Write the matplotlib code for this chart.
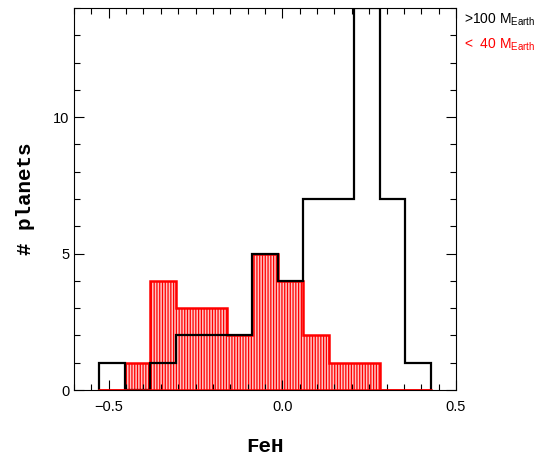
import numpy as np
import matplotlib
matplotlib.use("Agg")
import matplotlib.pyplot as plt
from matplotlib.ticker import MultipleLocator

plt.rcParams['font.family'] = ['Liberation Sans', 'DejaVu Sans']
plt.rcParams['mathtext.fontset'] = 'custom'
plt.rcParams['mathtext.rm'] = 'Liberation Sans'
plt.rcParams['hatch.linewidth'] = 0.9

# Data: histogram of [Fe/H]
bin_start = -0.527
bin_width = 0.0734
giant_counts = [1, 0, 1, 2, 2, 2, 5, 4, 7, 7, 14, 7, 1]      # >100 M_Earth
small_counts = [0, 1, 4, 3, 3, 2, 5, 4, 2, 1, 1, 0, 0]       # <40 M_Earth
edges = bin_start + bin_width * np.arange(len(giant_counts) + 1)

fig = plt.figure(figsize=(5.35, 4.57), dpi=100)
ax = fig.add_axes([74/535, 1 - 390/457, (456-74)/535, (390-8)/457])

ax.stairs(small_counts, edges, fill=True, facecolor='#ffc4c4',
          edgecolor='red', hatch='||||||', linewidth=0)
ax.stairs(small_counts, edges, color='red', linewidth=1.8, baseline=0)
ax.plot([edges[0], edges[-1]], [0, 0], color='red', lw=1.8)
ax.stairs(giant_counts, edges, color='black', linewidth=1.6)

ax.set_xlim(-0.6, 0.5)
ax.set_ylim(0, 14)
ax.xaxis.set_major_locator(MultipleLocator(0.5))
ax.xaxis.set_minor_locator(MultipleLocator(0.05))
ax.yaxis.set_major_locator(MultipleLocator(5))
ax.yaxis.set_minor_locator(MultipleLocator(1))
ax.xaxis.set_major_formatter(matplotlib.ticker.FuncFormatter(lambda v, p: f"{v:.1f}".replace('-', '\u2212') if abs(v) > 1e-9 else "0.0"))
ax.tick_params(which='both', direction='in', top=True, right=True, labelsize=10.5, width=0.8)
ax.tick_params(which='major', length=7)
ax.tick_params(which='minor', length=4)
ax.tick_params(axis='x', which='major', pad=7)
for s in ax.spines.values():
    s.set_linewidth(0.8)

ax.set_xlabel('FeH', family='Liberation Mono', fontweight='bold', fontsize=15, labelpad=17)
ax.set_ylabel('# planets', family='Liberation Mono', fontweight='bold', fontsize=15, labelpad=13)

fig.text(464/535, 1 - 20/457, r'>100 M$_{\mathrm{Earth}}$', color='black', fontsize=10, va='center', ha='left')
fig.text(464/535, 1 - 45/457, r'<  40 M$_{\mathrm{Earth}}$', color='red', fontsize=10, va='center', ha='left')

fig.savefig('out.png', dpi=100)
